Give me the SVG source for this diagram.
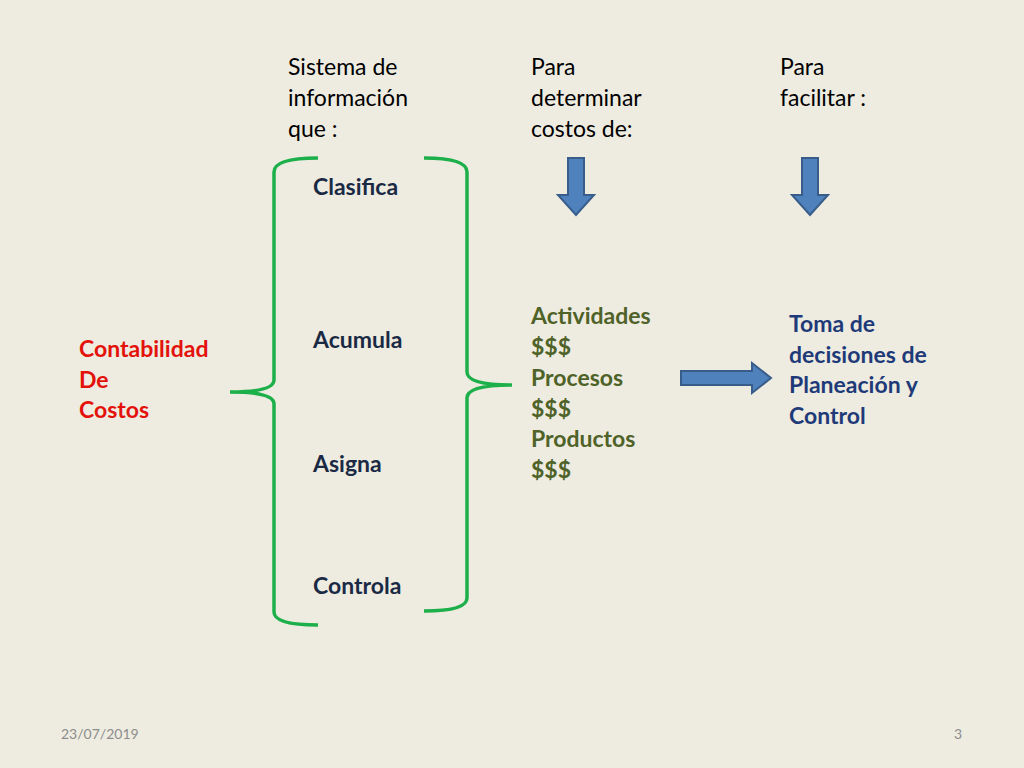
<svg xmlns="http://www.w3.org/2000/svg" width="1024" height="768" viewBox="0 0 1024 768">
<style>
text{font-family:Lato,"Open Sans","Liberation Sans",sans-serif;font-size:23px}
.h{fill:#000}
.b{font-weight:bold;fill:#1a2a44}
.g{font-weight:bold;fill:#4f6228}
.r{font-weight:bold;fill:#e3120b}
.n{font-weight:bold;fill:#1f3a78}
.br{fill:none;stroke:#1db04a;stroke-width:3.5}
.ar{fill:#4f81bd;stroke:#385d8a;stroke-width:2}
.f{font-size:14px;fill:#8c8c8c}
</style>
<rect width="1024" height="768" fill="#eeece1"/>
<g id="headers">
<text class="h" x="288" y="75">Sistema de</text><text class="h" x="288" y="106">información</text><text class="h" x="288" y="137">que :</text>
<text class="h" x="531" y="75">Para</text><text class="h" x="531" y="106">determinar</text><text class="h" x="531" y="137">costos de:</text>
<text class="h" x="780" y="75">Para</text><text class="h" x="780" y="106">facilitar :</text>
</g>
<g id="contabilidad"><text class="r" x="79" y="357">Contabilidad</text><text class="r" x="79" y="388">De</text><text class="r" x="79" y="418">Costos</text></g>
<g id="verbs">
<text class="b" x="313" y="195">Clasifica</text>
<text class="b" x="313" y="348">Acumula</text>
<text class="b" x="313" y="472">Asigna</text>
<text class="b" x="313" y="594">Controla</text>
</g>
<g id="costos"><text class="g" x="531" y="324">Actividades</text><text class="g" x="531" y="355">$$$</text><text class="g" x="531" y="386">Procesos</text><text class="g" x="531" y="417">$$$</text><text class="g" x="531" y="447">Productos</text><text class="g" x="531" y="478">$$$</text></g>
<g id="decisiones"><text class="n" x="789" y="332">Toma de</text><text class="n" x="789" y="363">decisiones de</text><text class="n" x="789" y="393">Planeación y</text><text class="n" x="789" y="424">Control</text></g>
<g id="connectors">
<path class="br" d="M318,158 Q274,158 274,172 L274,380 Q274,392 230,392 Q274,392 274,404 L274,612 Q274,625 318,625"/>
<path class="br" d="M424,158 Q467,158 467,172 L467,372 Q467,385 512,385 Q467,385 467,398 L467,598 Q467,611 424,611"/>
<path class="ar" d="M568,158 H584 V195 H594 L576,215 L558,195 H568 Z"/>
<path class="ar" d="M802,158 H818 V195 H828 L810,215 L792,195 H802 Z"/>
<path class="ar" d="M681,371 H752 V363 L771,378 L752,393 V385 H681 Z"/>
</g>
<g id="footer"><text class="f" x="61" y="739">23/07/2019</text><text class="f" x="954" y="739">3</text></g>
</svg>
